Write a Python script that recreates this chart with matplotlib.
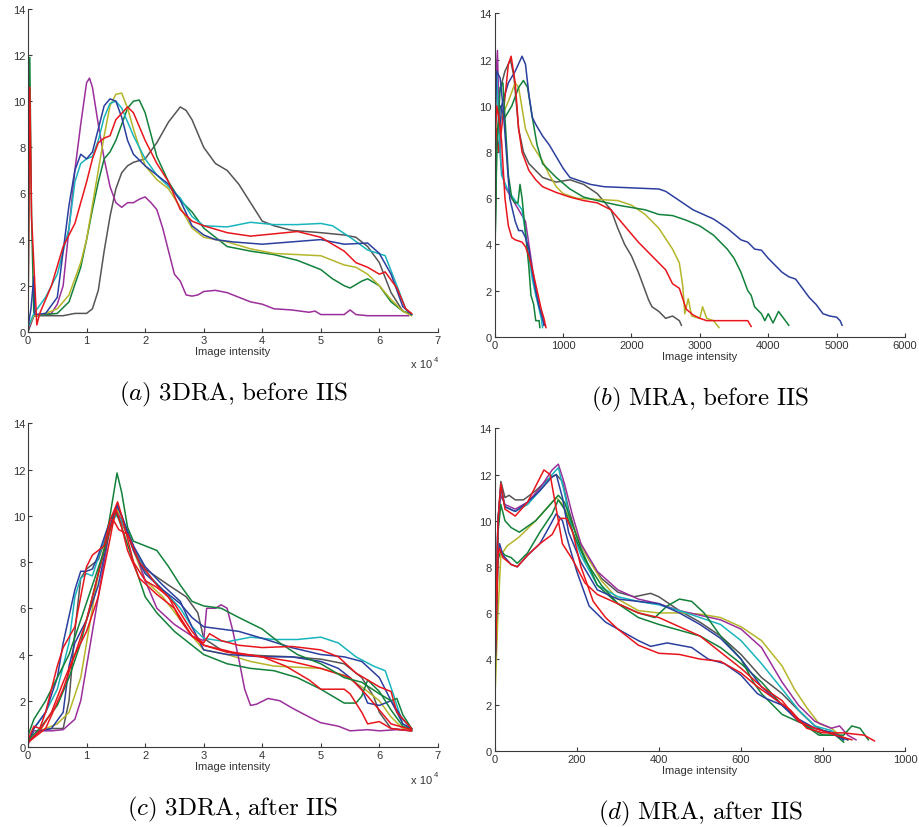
import matplotlib
matplotlib.use("Agg")
import matplotlib.pyplot as plt

plt.rcParams['font.family'] = ['Liberation Sans', 'DejaVu Sans']
plt.rcParams['mathtext.fontset'] = 'cm'

# line colours (MATLAB-like)
BLUE = "#2b3f9e"
GREEN = "#12813a"
RED = "#e8161c"
CYAN = "#19b5bd"
MAGENTA = "#9b2f9b"
YELLOW = "#b5b52a"
GRAY = "#555555"

# ---------------- (a) 3DRA, before IIS  (x in units of 1e4) ----------------
a_magenta = [(0, 0.1), (0.1, 0.7), (0.3, 0.75), (0.4, 0.8), (0.5, 1.2), (0.6, 2.0), (0.7, 4.5), (0.8, 7.0),
             (0.9, 9.0), (1.0, 10.8), (1.05, 11.0), (1.1, 10.6), (1.2, 9.0), (1.3, 7.5), (1.4, 6.3), (1.5, 5.6),
             (1.6, 5.4), (1.7, 5.6), (1.8, 5.6), (1.9, 5.75), (2.0, 5.85), (2.1, 5.6), (2.2, 5.3), (2.3, 4.5),
             (2.4, 3.5), (2.5, 2.5), (2.6, 2.2), (2.7, 1.6), (2.8, 1.55), (2.9, 1.6), (3.0, 1.75), (3.2, 1.8),
             (3.4, 1.7), (3.6, 1.5), (3.8, 1.3), (4.0, 1.2), (4.2, 1.0), (4.5, 0.95), (4.8, 0.85), (4.9, 0.9),
             (5.0, 0.75), (5.4, 0.75), (5.5, 0.95), (5.6, 0.75), (5.8, 0.7), (6.5, 0.7)]
a_blue = [(0, 0.2), (0.05, 1.0), (0.1, 2.4), (0.12, 0.75), (0.3, 0.8), (0.5, 1.5), (0.6, 3.5), (0.7, 5.5),
          (0.8, 7.0), (0.9, 7.7), (1.0, 7.5), (1.1, 7.8), (1.2, 8.8), (1.3, 9.8), (1.4, 10.1), (1.5, 10.0),
          (1.6, 9.3), (1.7, 8.3), (1.8, 7.7), (2.0, 7.2), (2.2, 6.8), (2.4, 6.4), (2.6, 5.7), (2.8, 4.6),
          (3.0, 4.2), (3.2, 4.0), (3.5, 3.9), (4.0, 3.8), (4.5, 3.9), (5.0, 4.0), (5.4, 3.8), (5.8, 3.85),
          (6.0, 3.4), (6.2, 2.5), (6.4, 1.1), (6.55, 0.75)]
a_cyan = [(0, 0.2), (0.1, 0.8), (0.3, 1.5), (0.5, 2.5), (0.7, 4.5), (0.8, 6.5), (0.9, 7.3), (1.0, 7.5),
          (1.1, 7.6), (1.2, 8.3), (1.3, 9.3), (1.4, 9.9), (1.5, 10.0), (1.6, 9.7), (1.8, 8.5), (2.0, 7.5),
          (2.2, 6.8), (2.4, 6.3), (2.6, 5.8), (2.8, 5.0), (3.0, 4.6), (3.4, 4.55), (3.8, 4.75), (4.2, 4.65),
          (4.6, 4.65), (5.0, 4.7), (5.2, 4.6), (5.5, 4.1), (5.8, 3.55), (6.1, 3.3), (6.3, 2.0), (6.45, 1.0),
          (6.55, 0.75)]
a_red = [(0, 0.3), (0.03, 10.6), (0.06, 5.0), (0.15, 0.3), (0.2, 0.8), (0.4, 2.0), (0.6, 3.7), (0.8, 4.7),
         (1.0, 6.5), (1.1, 7.5), (1.2, 8.2), (1.3, 8.4), (1.4, 8.5), (1.5, 9.2), (1.7, 9.75), (1.8, 9.5),
         (2.0, 8.3), (2.2, 7.3), (2.4, 6.5), (2.6, 5.3), (2.8, 4.8), (3.0, 4.6), (3.4, 4.3), (3.8, 4.15),
         (4.2, 4.25), (4.6, 4.35), (5.0, 4.1), (5.4, 3.5), (5.6, 3.0), (5.8, 2.8), (6.0, 2.5), (6.1, 2.6),
         (6.3, 1.9), (6.45, 1.0), (6.55, 0.8)]
a_yellow = [(0, 0.2), (0.1, 0.7), (0.3, 0.8), (0.5, 1.0), (0.7, 1.6), (0.9, 3.0), (1.0, 4.0), (1.1, 5.5),
            (1.2, 7.0), (1.3, 8.5), (1.4, 9.8), (1.5, 10.3), (1.6, 10.35), (1.7, 9.7), (1.8, 8.8), (2.0, 7.2),
            (2.2, 6.6), (2.4, 6.2), (2.6, 5.4), (2.8, 4.5), (3.0, 4.1), (3.4, 3.9), (3.8, 3.6), (4.2, 3.4),
            (4.6, 3.35), (5.0, 3.3), (5.4, 2.9), (5.6, 2.8), (5.8, 2.5), (6.0, 2.0), (6.2, 1.4), (6.4, 0.9),
            (6.55, 0.7)]
a_green = [(0, 0.2), (0.03, 11.9), (0.06, 5.0), (0.1, 0.7), (0.3, 0.75), (0.5, 0.8), (0.7, 1.3), (0.9, 2.8),
           (1.0, 4.0), (1.1, 5.3), (1.2, 6.5), (1.3, 7.5), (1.4, 7.8), (1.5, 8.3), (1.6, 9.0), (1.7, 9.7),
           (1.8, 10.0), (1.9, 10.05), (2.0, 9.5), (2.2, 7.6), (2.4, 6.5), (2.6, 5.7), (2.8, 5.2), (3.0, 4.5),
           (3.2, 4.1), (3.4, 3.7), (3.8, 3.5), (4.2, 3.35), (4.6, 3.1), (5.0, 2.7), (5.2, 2.3), (5.4, 2.0),
           (5.5, 1.9), (5.7, 2.2), (5.8, 2.3), (6.0, 2.0), (6.2, 1.3), (6.4, 0.9), (6.55, 0.75)]
a_gray = [(0, 0.0), (0.1, 0.7), (0.3, 0.7), (0.6, 0.7), (0.8, 0.8), (1.0, 0.8), (1.1, 1.0), (1.2, 1.8),
          (1.3, 3.5), (1.4, 5.0), (1.5, 6.2), (1.6, 6.9), (1.7, 7.2), (1.8, 7.35), (2.0, 7.5), (2.2, 8.2),
          (2.4, 9.1), (2.6, 9.75), (2.7, 9.6), (2.8, 9.2), (3.0, 8.0), (3.2, 7.3), (3.4, 7.0), (3.6, 6.4),
          (3.8, 5.6), (4.0, 4.8), (4.2, 4.6), (4.5, 4.4), (5.0, 4.3), (5.4, 4.2), (5.6, 4.1), (5.8, 3.7),
          (6.0, 3.0), (6.2, 1.7), (6.4, 0.9), (6.55, 0.75)]

# ---------------- (b) MRA, before IIS ----------------
b_blue = [(0, 3), (20, 9), (60, 8.0), (100, 10), (200, 11), (300, 11.5), (400, 12.15), (450, 11.8), (500, 10.5),
          (550, 9.5), (600, 9.2), (700, 8.7), (800, 8.3), (900, 7.8), (1000, 7.3), (1100, 6.9), (1200, 6.8),
          (1400, 6.6), (1600, 6.5), (2000, 6.45), (2400, 6.4), (2500, 6.3), (2700, 5.9), (2900, 5.5),
          (3200, 5.1), (3400, 4.7), (3600, 4.2), (3700, 4.1), (3800, 3.8), (3900, 3.75), (4000, 3.4),
          (4200, 2.8), (4300, 2.6), (4400, 2.5), (4500, 2.1), (4600, 1.7), (4700, 1.4), (4800, 1.0),
          (4900, 0.9), (5000, 0.85), (5050, 0.7), (5080, 0.5)]
b_green = [(0, 3), (30, 8.5), (80, 10.0), (150, 9.5), (250, 10.0), (350, 10.8), (420, 11.1), (480, 10.8),
           (550, 9.5), (620, 8.3), (700, 7.5), (800, 7.2), (900, 6.9), (1100, 6.4), (1300, 6.05), (1500, 5.9),
           (1800, 5.7), (2200, 5.5), (2400, 5.3), (2600, 5.25), (2800, 5.05), (3000, 4.8), (3200, 4.4),
           (3400, 3.8), (3500, 3.4), (3600, 2.8), (3700, 2.0), (3750, 1.8), (3800, 1.3), (3900, 1.0),
           (3950, 0.7), (4000, 1.0), (4070, 0.6), (4150, 1.1), (4200, 0.9), (4300, 0.5)]
b_red = [(0, 3), (20, 9), (60, 8.0), (120, 9.5), (200, 11.8), (240, 12.15), (300, 11.0), (350, 9.0),
         (400, 8.0), (500, 7.2), (600, 6.8), (700, 6.5), (900, 6.25), (1100, 6.05), (1300, 5.9), (1500, 5.8),
         (1700, 5.5), (1900, 4.8), (2100, 4.1), (2300, 3.5), (2500, 2.9), (2600, 2.3), (2700, 2.1),
         (2800, 1.2), (2900, 0.95), (3000, 0.8), (3100, 0.7), (3700, 0.7), (3750, 0.45)]
b_yellow = [(0, 4), (30, 9.0), (100, 9.5), (200, 10.2), (300, 11.0), (350, 10.8), (450, 9.0), (550, 8.3),
            (700, 7.6), (800, 7.0), (900, 6.5), (1000, 6.2), (1200, 6.0), (1500, 5.95), (1800, 5.9),
            (2000, 5.7), (2200, 5.3), (2400, 4.7), (2600, 3.8), (2700, 3.2), (2750, 2.2), (2780, 1.0),
            (2830, 1.65), (2880, 0.9), (3000, 0.8), (3040, 1.3), (3100, 0.8), (3200, 0.7), (3280, 0.4)]
b_gray = [(0, 6), (20, 11), (60, 10.5), (150, 11.5), (230, 12.0), (280, 11.3), (350, 9.0), (420, 8.0),
          (500, 7.5), (700, 6.9), (900, 6.7), (1100, 6.8), (1300, 6.6), (1500, 6.2), (1700, 5.5), (1800, 4.7),
          (1900, 4.0), (2000, 3.5), (2100, 2.8), (2200, 2.0), (2250, 1.6), (2300, 1.3), (2400, 1.1),
          (2500, 0.8), (2600, 0.9), (2700, 0.7), (2730, 0.5)]
b_magenta = [(0, 10), (40, 12.4), (60, 10), (90, 7.5), (150, 6.5), (250, 6.0), (350, 5.5), (450, 5.0),
             (500, 4.0), (550, 3.0), (600, 2.0), (650, 1.3), (700, 0.8), (730, 0.5)]
b_cyan = [(0, 11), (30, 11.4), (60, 9), (100, 7.0), (200, 6.3), (300, 5.9), (400, 5.5), (450, 4.5),
          (500, 3.5), (550, 2.5), (600, 1.8), (650, 1.2), (680, 0.8), (700, 0.4)]
b_blue2 = [(0, 9), (30, 11.5), (80, 11.2), (120, 10), (170, 8.0), (220, 6.0), (300, 5.0), (350, 4.6),
           (400, 4.6), (450, 4.3), (500, 3.8), (550, 2.8), (600, 2.0), (650, 1.3), (700, 0.8), (720, 0.5)]
b_red2 = [(0, 8), (30, 10.0), (60, 9.5), (100, 8.5), (150, 6.0), (200, 4.8), (250, 4.3), (300, 4.2),
          (400, 4.1), (450, 3.9), (500, 3.5), (560, 2.8), (620, 2.0), (680, 1.2), (720, 0.8), (750, 0.4)]
b_green2 = [(0, 3), (30, 8), (80, 10.8), (120, 11.0), (160, 9.0), (200, 7.0), (250, 6.0), (300, 5.8),
            (340, 5.8), (370, 6.6), (400, 6.0), (450, 4.5), (500, 3.0), (530, 1.8), (570, 1.4), (600, 0.7),
            (650, 0.7), (660, 0.4)]

# ---------------- (c) 3DRA, after IIS  (x in units of 1e4) ----------------
c_green = [(0, 0.5), (0.1, 1.2), (0.3, 2.0), (0.5, 3.0), (0.7, 4.0), (0.9, 5.5), (1.1, 7.0), (1.3, 8.5),
           (1.4, 10.0), (1.52, 11.85), (1.6, 11.0), (1.7, 9.5), (1.8, 8.9), (2.0, 8.7), (2.2, 8.5), (2.4, 7.8),
           (2.6, 7.0), (2.8, 6.3), (3.0, 6.1), (3.3, 6.0), (3.6, 5.6), (4.0, 5.1), (4.3, 4.5), (4.6, 4.0),
           (5.0, 3.6), (5.4, 3.0), (5.7, 2.8), (6.0, 2.3), (6.2, 2.0), (6.3, 2.1), (6.4, 1.4), (6.55, 0.8)]
c_green2 = [(0, 0.3), (0.2, 0.8), (0.5, 1.8), (0.7, 3.0), (0.9, 4.5), (1.1, 6.5), (1.3, 8.5), (1.5, 10.2),
            (1.6, 9.5), (1.8, 8.0), (2.0, 6.5), (2.2, 5.8), (2.5, 5.0), (2.8, 4.4), (3.0, 4.0), (3.4, 3.6),
            (3.8, 3.4), (4.2, 3.3), (4.6, 3.0), (5.0, 2.5), (5.4, 1.9), (5.6, 1.9), (5.7, 2.2), (5.8, 2.9),
            (6.0, 2.4), (6.2, 1.6), (6.4, 0.9), (6.55, 0.75)]
c_red = [(0, 0.3), (0.1, 0.9), (0.2, 0.8), (0.3, 1.5), (0.5, 3.5), (0.6, 4.3), (0.8, 5.2), (0.9, 6.5),
         (1.0, 7.8), (1.1, 8.3), (1.2, 8.5), (1.3, 8.7), (1.4, 9.8), (1.53, 10.6), (1.6, 10.0), (1.7, 9.0),
         (1.8, 8.0), (2.0, 7.2), (2.2, 6.9), (2.4, 6.5), (2.6, 5.5), (2.8, 4.8), (3.0, 4.5), (3.1, 4.9),
         (3.3, 4.6), (3.6, 4.4), (4.0, 4.3), (4.5, 4.35), (5.0, 4.2), (5.3, 3.9), (5.6, 3.2), (5.8, 2.9),
         (6.0, 2.6), (6.2, 2.4), (6.3, 1.5), (6.55, 0.8)]
c_red2 = [(0, 0.2), (0.2, 0.7), (0.4, 1.5), (0.6, 2.8), (0.8, 4.0), (1.0, 5.0), (1.2, 6.5), (1.4, 9.0),
          (1.5, 10.3), (1.6, 9.5), (1.7, 8.5), (1.9, 7.3), (2.2, 6.6), (2.5, 6.0), (2.8, 4.8), (3.0, 4.4),
          (3.4, 4.1), (4.0, 3.9), (4.4, 3.5), (4.8, 2.9), (5.0, 2.5), (5.4, 2.5), (5.5, 2.3), (5.7, 1.5),
          (5.8, 1.0), (6.0, 1.1), (6.2, 0.8), (6.55, 0.7)]
c_red3 = [(0, 0.2), (0.3, 0.8), (0.6, 2.5), (0.8, 4.0), (1.0, 5.5), (1.2, 7.5), (1.35, 9.0), (1.45, 9.85),
          (1.55, 9.4), (1.7, 9.2), (1.9, 8.0), (2.2, 7.0), (2.5, 6.2), (2.8, 5.0), (3.0, 4.4), (3.5, 4.1),
          (4.0, 3.9), (4.5, 3.7), (5.0, 3.4), (5.5, 3.0), (5.8, 2.2), (6.0, 1.6), (6.2, 1.0), (6.55, 0.75)]
c_blue = [(0, 0.2), (0.1, 0.8), (0.3, 1.5), (0.5, 3.0), (0.6, 4.5), (0.8, 6.8), (0.9, 7.6), (1.0, 7.6),
          (1.1, 7.7), (1.2, 8.3), (1.4, 9.8), (1.52, 10.4), (1.6, 10.0), (1.8, 8.5), (2.0, 7.5), (2.3, 6.8),
          (2.6, 6.2), (2.8, 5.6), (3.0, 5.2), (3.3, 5.1), (3.6, 5.0), (4.0, 4.7), (4.5, 4.3), (5.0, 4.0),
          (5.4, 3.9), (5.7, 3.7), (6.0, 3.0), (6.2, 2.0), (6.4, 1.0), (6.55, 0.8)]
c_blue2 = [(0, 0.2), (0.2, 0.7), (0.4, 0.8), (0.6, 1.5), (0.7, 3.5), (0.8, 4.5), (1.0, 5.5), (1.2, 7.0),
           (1.4, 9.5), (1.52, 10.5), (1.6, 10.0), (1.8, 8.7), (2.0, 7.8), (2.3, 7.0), (2.6, 6.3), (2.8, 5.2),
           (3.0, 4.2), (3.4, 4.0), (4.0, 3.9), (4.5, 3.9), (5.0, 3.7), (5.3, 3.4), (5.5, 3.0), (5.7, 2.5),
           (5.8, 1.9), (6.0, 1.8), (6.2, 2.0), (6.4, 1.2), (6.55, 0.8)]
c_cyan = [(0, 0.2), (0.1, 0.8), (0.3, 1.5), (0.5, 2.5), (0.7, 4.5), (0.8, 6.5), (0.9, 7.3), (1.0, 7.5),
          (1.1, 7.4), (1.2, 8.2), (1.4, 9.6), (1.5, 10.0), (1.6, 9.8), (1.8, 8.6), (2.0, 7.6), (2.3, 6.8),
          (2.6, 6.0), (2.8, 5.2), (3.0, 4.7), (3.4, 4.55), (3.8, 4.75), (4.2, 4.65), (4.6, 4.65), (5.0, 4.75),
          (5.3, 4.5), (5.6, 3.9), (5.9, 3.5), (6.1, 3.3), (6.25, 2.2), (6.4, 1.0), (6.55, 0.75)]
c_magenta = [(0, 0.1), (0.1, 0.7), (0.4, 0.7), (0.6, 0.75), (0.8, 1.2), (0.9, 2.0), (1.0, 3.5), (1.1, 5.0),
             (1.2, 6.5), (1.3, 8.0), (1.4, 9.5), (1.5, 10.2), (1.6, 9.8), (1.8, 8.7), (2.0, 7.2), (2.2, 6.0),
             (2.5, 5.3), (2.8, 4.8), (3.0, 4.6), (3.05, 6.0), (3.2, 6.0), (3.3, 6.15), (3.4, 6.0), (3.5, 5.0),
             (3.6, 3.8), (3.7, 2.5), (3.8, 1.8), (3.9, 1.85), (4.1, 2.1), (4.3, 2.0), (4.5, 1.7), (4.8, 1.3),
             (5.0, 1.05), (5.3, 0.9), (5.5, 0.7), (5.8, 0.75), (6.0, 0.7), (6.3, 0.75), (6.55, 0.7)]
c_yellow = [(0, 0.2), (0.2, 0.7), (0.5, 1.0), (0.7, 1.5), (0.9, 3.0), (1.0, 4.5), (1.2, 7.5), (1.4, 9.8),
            (1.52, 10.3), (1.6, 9.8), (1.8, 8.5), (2.0, 7.2), (2.3, 6.5), (2.6, 5.5), (2.8, 4.8), (3.0, 4.2),
            (3.4, 4.0), (3.8, 3.7), (4.2, 3.5), (4.6, 3.45), (5.0, 3.4), (5.4, 3.1), (5.7, 2.6), (6.0, 2.0),
            (6.2, 1.3), (6.4, 0.8), (6.55, 0.7)]
c_gray = [(0, 0.2), (0.2, 0.7), (0.4, 0.8), (0.6, 0.8), (0.7, 2.0), (0.8, 5.0), (0.9, 7.3), (1.0, 7.7),
          (1.1, 7.9), (1.2, 8.1), (1.4, 9.6), (1.5, 10.1), (1.6, 9.7), (1.8, 8.6), (2.0, 7.7), (2.4, 7.0),
          (2.7, 6.5), (2.9, 5.8), (3.0, 4.7), (3.3, 4.2), (3.6, 4.0), (4.0, 3.95), (4.5, 3.9), (5.0, 3.8),
          (5.4, 3.6), (5.7, 3.0), (5.9, 2.2), (6.0, 1.5), (6.2, 0.8), (6.55, 0.7)]

# ---------------- (d) MRA, after IIS ----------------
d_gray = [(0, 3), (8, 10), (15, 11.7), (25, 11.0), (35, 11.1), (50, 10.9), (70, 10.9), (100, 11.3), (130, 11.8),
          (150, 12.0), (165, 11.7), (180, 10.5), (200, 9.3), (230, 8.3), (260, 7.5), (300, 6.9), (340, 6.7),
          (380, 6.85), (400, 6.7), (450, 6.1), (500, 5.6), (550, 5.0), (600, 4.2), (650, 3.2), (700, 2.5),
          (750, 1.6), (780, 1.1), (800, 0.9), (830, 0.8), (860, 0.5)]
d_magenta = [(0, 3), (8, 10), (15, 11.1), (25, 10.7), (50, 10.5), (80, 10.8), (110, 11.4), (140, 12.2),
             (155, 12.45), (170, 11.6), (190, 10.2), (210, 9.0), (250, 7.8), (300, 7.0), (350, 6.6), (400, 6.4),
             (450, 6.1), (500, 5.9), (550, 5.7), (600, 5.3), (650, 4.5), (700, 3.0), (740, 2.0), (780, 1.3),
             (820, 1.0), (840, 1.1), (860, 0.7), (880, 0.5)]
d_cyan = [(0, 3), (8, 10), (15, 11.4), (25, 10.6), (50, 10.4), (80, 10.7), (110, 11.3), (140, 12.0), (155, 12.3),
          (170, 11.2), (190, 9.5), (210, 8.5), (250, 7.2), (300, 6.7), (350, 6.5), (400, 6.35), (450, 6.1),
          (500, 5.8), (550, 5.5), (600, 4.8), (650, 3.8), (700, 2.7), (740, 1.8), (780, 1.1), (820, 0.9),
          (850, 0.5)]
d_blue = [(0, 3), (8, 10), (15, 11.5), (25, 10.6), (50, 10.4), (80, 10.8), (110, 11.3), (140, 11.9), (150, 12.0),
          (165, 11.0), (180, 9.5), (210, 8.2), (250, 7.0), (300, 6.6), (350, 6.5), (400, 6.4), (450, 6.0),
          (500, 5.5), (550, 4.9), (600, 4.0), (650, 2.8), (700, 2.0), (740, 1.4), (780, 1.0), (820, 0.8),
          (860, 0.5)]
d_red = [(0, 3), (8, 10), (15, 11.6), (25, 10.5), (50, 10.2), (80, 10.8), (100, 11.5), (120, 12.2), (135, 12.0),
         (150, 10.5), (165, 9.0), (190, 8.3), (220, 7.3), (250, 6.8), (300, 6.4), (350, 6.0), (400, 5.8),
         (450, 5.4), (500, 5.0), (550, 4.3), (600, 3.6), (650, 2.8), (700, 2.2), (740, 1.3), (780, 1.0),
         (830, 0.7), (870, 0.5)]
d_green = [(0, 3), (8, 9.5), (15, 10.7), (25, 10.0), (40, 9.7), (60, 9.5), (100, 10.0), (130, 10.6), (155, 11.1),
           (170, 10.8), (190, 9.8), (210, 8.8), (250, 7.2), (300, 6.4), (350, 6.0), (390, 5.8), (420, 6.3),
           (450, 6.6), (480, 6.5), (510, 6.0), (550, 5.0), (600, 4.0), (630, 3.0), (650, 2.5), (700, 1.6),
           (750, 1.2), (800, 0.7), (850, 0.7), (870, 1.1), (890, 1.0), (910, 0.5)]
d_yellow = [(0, 2), (8, 6), (15, 8.5), (30, 8.9), (60, 9.3), (100, 10.0), (130, 10.6), (150, 11.0), (165, 10.7),
            (190, 9.8), (220, 8.6), (260, 7.4), (300, 6.6), (350, 6.1), (400, 6.0), (450, 6.0), (500, 5.95),
            (550, 5.8), (600, 5.4), (650, 4.8), (700, 3.7), (730, 2.7), (760, 1.9), (790, 1.2), (820, 1.0),
            (840, 0.7), (860, 0.5)]
d_blue2 = [(0, 3), (8, 8.5), (12, 9.0), (20, 8.5), (40, 8.1), (55, 8.0), (80, 8.5), (110, 9.0), (135, 9.8),
           (150, 10.3), (165, 10.0), (180, 9.0), (200, 7.8), (230, 6.3), (270, 5.6), (300, 5.3), (350, 4.8),
           (380, 4.55), (420, 4.7), (450, 4.6), (480, 4.5), (520, 4.0), (560, 3.8), (600, 3.3), (640, 2.5),
           (660, 2.3), (700, 2.0), (740, 1.3), (780, 1.0), (820, 0.8), (850, 0.5)]
d_red2 = [(0, 3), (8, 8.5), (12, 8.8), (20, 8.4), (40, 8.1), (55, 8.0), (80, 8.5), (110, 9.0), (140, 9.4),
          (160, 10.1), (175, 10.1), (190, 9.5), (210, 8.0), (240, 6.5), (270, 5.8), (300, 5.3), (350, 4.6),
          (400, 4.25), (450, 4.2), (500, 4.0), (550, 3.9), (600, 3.4), (640, 2.8), (680, 2.3), (720, 1.8),
          (760, 1.0), (800, 0.8), (850, 0.8), (900, 0.7), (925, 0.45)]
d_green2 = [(0, 3), (8, 8.3), (15, 8.7), (25, 8.5), (40, 8.4), (55, 8.15), (80, 8.6), (110, 9.5), (140, 10.3),
            (155, 10.9), (170, 10.5), (190, 9.5), (220, 8.3), (260, 7.2), (300, 6.4), (350, 5.8), (400, 5.5),
            (450, 5.25), (500, 5.0), (550, 4.5), (600, 3.8), (650, 3.0), (700, 2.0), (750, 1.2), (790, 0.7),
            (830, 0.7), (850, 0.4)]

panels = [
    dict(rect=[0.0305, 0.598, 0.446, 0.390], xmax=7, xticks=range(0, 8), sci=True,
         caption=r"$(a)\ \mathrm{3DRA{,}\ before\ IIS}$",
         curves=[(a_gray, GRAY), (a_magenta, MAGENTA), (a_green, GREEN), (a_yellow, YELLOW),
                 (a_cyan, CYAN), (a_blue, BLUE), (a_red, RED)]),
    dict(rect=[0.5383, 0.592, 0.4465, 0.3905], xmax=6000, xticks=range(0, 7000, 1000), sci=False,
         caption=r"$(b)\ \mathrm{MRA{,}\ before\ IIS}$",
         curves=[(b_gray, GRAY), (b_yellow, YELLOW), (b_green, GREEN), (b_blue, BLUE), (b_red, RED),
                 (b_magenta, MAGENTA), (b_cyan, CYAN), (b_green2, GREEN), (b_blue2, BLUE), (b_red2, RED)]),
    dict(rect=[0.0305, 0.0966, 0.446, 0.391], xmax=7, xticks=range(0, 8), sci=True,
         caption=r"$(c)\ \mathrm{3DRA{,}\ after\ IIS}$",
         curves=[(c_gray, GRAY), (c_yellow, YELLOW), (c_magenta, MAGENTA), (c_cyan, CYAN), (c_blue2, BLUE),
                 (c_blue, BLUE), (c_green2, GREEN), (c_red3, RED), (c_red2, RED), (c_green, GREEN), (c_red, RED)]),
    dict(rect=[0.5383, 0.0914, 0.4467, 0.390], xmax=1000, xticks=range(0, 1200, 200), sci=False,
         caption=r"$(d)\ \mathrm{MRA{,}\ after\ IIS}$",
         curves=[(d_gray, GRAY), (d_yellow, YELLOW), (d_magenta, MAGENTA), (d_cyan, CYAN), (d_green2, GREEN),
                 (d_green, GREEN), (d_blue, BLUE), (d_blue2, BLUE), (d_red2, RED), (d_red, RED)]),
]

fig = plt.figure(figsize=(9.19, 8.28), dpi=100)

for p in panels:
    ax = fig.add_axes(p["rect"])
    for pts, col in p["curves"]:
        xs = [q[0] for q in pts]
        ys = [q[1] for q in pts]
        ax.plot(xs, ys, color=col, lw=1.1, solid_joinstyle="round")
    ax.set_xlim(0, p["xmax"])
    ax.set_ylim(0, 14)
    ax.set_xticks(list(p["xticks"]))
    ax.set_yticks(range(0, 16, 2))
    for s in ["top", "right"]:
        ax.spines[s].set_visible(False)
    for s in ["left", "bottom"]:
        ax.spines[s].set_color("#3a3a3a")
        ax.spines[s].set_linewidth(0.8)
    ax.tick_params(direction="in", length=3, width=0.8, color="#3a3a3a", labelsize=8,
                   labelcolor="#333333", pad=2)
    ax.set_xlabel("Image intensity", fontsize=8, color="#333333", labelpad=1)
    if p["sci"]:
        ax.text(0.985, -0.085, "x 10", transform=ax.transAxes, ha="right", va="top",
                fontsize=8, color="#333333")
        ax.text(0.99, -0.075, "4", transform=ax.transAxes, ha="left", va="top",
                fontsize=5.5, color="#333333")
    ax.text(0.5, -0.145, p["caption"], transform=ax.transAxes, ha="center", va="top", fontsize=18)

fig.savefig("out.png", dpi=100)
